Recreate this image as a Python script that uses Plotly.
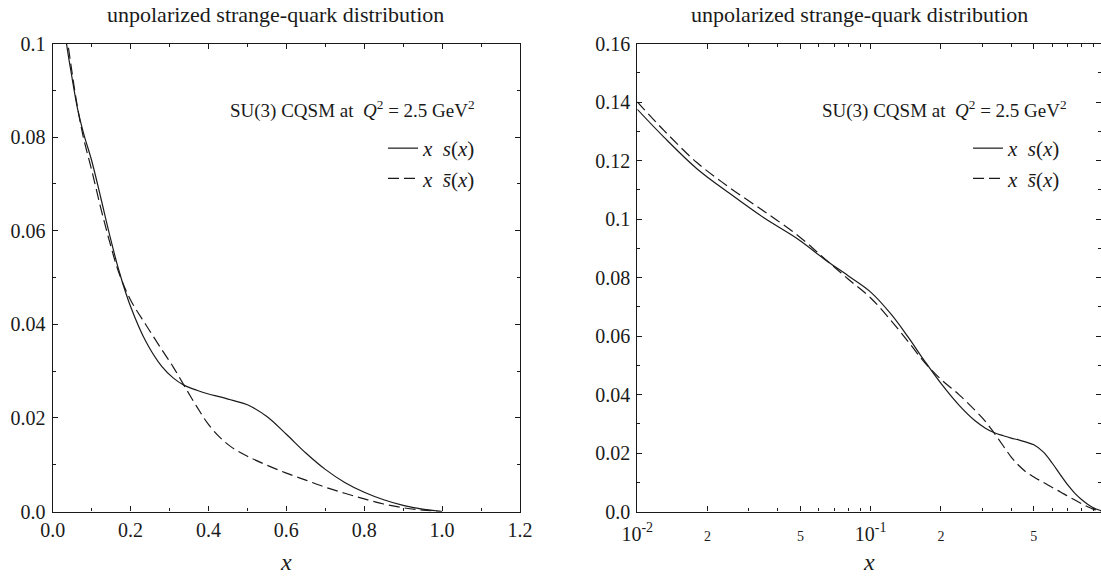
import plotly.graph_objects as go

# ---- data ----
x_vals = [0.01, 0.013, 0.018, 0.025, 0.035, 0.049, 0.064, 0.08, 0.1, 0.123, 0.145,
          0.17, 0.2, 0.24, 0.28, 0.31, 0.337, 0.37, 0.4, 0.43, 0.46, 0.5, 0.55, 0.6,
          0.65, 0.7, 0.75, 0.8, 0.85, 0.9, 0.95, 1.0]
xs_vals = [0.1375, 0.1280, 0.1172, 0.1086, 0.1003, 0.0930, 0.0860, 0.0806, 0.0750,
           0.0672, 0.0595, 0.0515, 0.0438, 0.0362, 0.0310, 0.0285, 0.0270, 0.0259,
           0.0251, 0.0245, 0.0238, 0.0228, 0.0203, 0.0165, 0.0125, 0.0090, 0.0062,
           0.0041, 0.0025, 0.0013, 0.0005, 0.0]
xsbar_vals = [0.1400, 0.1303, 0.1193, 0.1106, 0.1026, 0.0942, 0.0862, 0.0795, 0.0730,
              0.0650, 0.0580, 0.0510, 0.0452, 0.0398, 0.0346, 0.0308, 0.0270, 0.0224,
              0.0186, 0.0158, 0.0137, 0.0118, 0.0099, 0.0082, 0.0067, 0.0052, 0.0039,
              0.0027, 0.0016, 0.0008, 0.0003, 0.0]

left_xticks = [0.0, 0.2, 0.4, 0.6, 0.8, 1.0, 1.2]
left_xlabels = ["0.0", "0.2", "0.4", "0.6", "0.8", "1.0", "1.2"]
left_yticks = [0.0, 0.02, 0.04, 0.06, 0.08, 0.1]
left_ylabels = ["0.0", "0.02", "0.04", "0.06", "0.08", "0.1"]
right_yticks = [0.0, 0.02, 0.04, 0.06, 0.08, 0.1, 0.12, 0.14, 0.16]
right_ylabels = ["0.0", "0.02", "0.04", "0.06", "0.08", "0.1", "0.12", "0.14", "0.16"]
right_xticks = [0.01, 0.02, 0.05, 0.1, 0.2, 0.5]
small = "<span style='font-size:14px'>{}</span>"
right_xlabels = ["10<sup>-2</sup>", small.format("2"), small.format("5"),
                 "10<sup>-1</sup>", small.format("2"), small.format("5")]
right_xminor = [0.03, 0.04, 0.06, 0.07, 0.08, 0.09, 0.3, 0.4, 0.6, 0.7, 0.8, 0.9]

title_text = "unpolarized strange-quark distribution"
label_s = "<i>x</i>&nbsp;&nbsp;<i>s</i>(<i>x</i>)"
label_sbar = "<i>x</i>&nbsp;&nbsp;<i>s\u0304</i>(<i>x</i>)"
model_text = "SU(3) CQSM at  <i>Q</i><sup>2</sup> = 2.5 GeV<sup>2</sup>"

W, H = 1101, 577
SERIF = "Liberation Serif"
INK = "#1a1a1a"

fig = go.Figure()

for xa, ya, leg in [("x", "y", "legend"), ("x2", "y2", "legend2")]:
    fig.add_trace(go.Scatter(x=x_vals, y=xs_vals, mode="lines", name=label_s,
                             xaxis=xa, yaxis=ya, legend=leg,
                             line=dict(color=INK, width=1.2, shape="spline", smoothing=1.0)))
    fig.add_trace(go.Scatter(x=x_vals, y=xsbar_vals, mode="lines", name=label_sbar,
                             xaxis=xa, yaxis=ya, legend=leg,
                             line=dict(color=INK, width=1.2, dash="11px,5px",
                                       shape="spline", smoothing=1.0)))


def px_x(p):
    return p / W


def px_y(p):
    return 1 - p / H


axis_common = dict(showline=True, linecolor=INK, linewidth=1.2, mirror="ticks",
                   ticks="inside", ticklen=5, tickwidth=1, tickcolor=INK,
                   showgrid=False, zeroline=False, automargin=False,
                   tickfont=dict(family=SERIF, size=20, color=INK))

y_bottom, y_top = px_y(511.5), px_y(43.5)

legend_common = dict(xanchor="left", yanchor="top", bgcolor="rgba(0,0,0,0)",
                     font=dict(family=SERIF, size=21, color=INK),
                     tracegroupgap=0, itemwidth=30)

fig.update_layout(
    width=W, height=H,
    margin=dict(l=0, r=0, t=0, b=0),
    paper_bgcolor="white", plot_bgcolor="white",
    font=dict(family=SERIF, color=INK),
    xaxis=dict(domain=[px_x(52.7), px_x(520)], range=[0, 1.2], tickmode="array",
               tickvals=left_xticks, ticktext=left_xlabels, anchor="y",
               minor=dict(ticks="inside", ticklen=3, dtick=0.1, tick0=0, tickcolor=INK),
               ticklabelstandoff=0, **axis_common),
    yaxis=dict(domain=[y_bottom, y_top], range=[0, 0.1], tickmode="array",
               tickvals=left_yticks, ticktext=left_ylabels, anchor="x",
               minor=dict(ticks="inside", ticklen=3, dtick=0.01, tick0=0, tickcolor=INK),
               ticklabelstandoff=2, **axis_common),
    xaxis2=dict(domain=[px_x(637.3), 1.0], type="log", range=[-2, -0.0133],
                tickmode="array", tickvals=right_xticks, ticktext=right_xlabels,
                anchor="y2",
                minor=dict(ticks="inside", ticklen=3, tickvals=right_xminor, tickcolor=INK),
                ticklabelstandoff=4, **axis_common),
    yaxis2=dict(domain=[y_bottom, y_top], range=[0, 0.16], tickmode="array",
                tickvals=right_yticks, ticktext=right_ylabels, anchor="x2",
                minor=dict(ticks="inside", ticklen=3, dtick=0.01, tick0=0, tickcolor=INK),
                ticklabelstandoff=2, **axis_common),
    legend=dict(x=px_x(383), y=px_y(128), **legend_common),
    legend2=dict(x=px_x(968), y=px_y(128), **legend_common),
    showlegend=True,
)

annotations = [
    dict(text=title_text, x=px_x(275), y=px_y(14)),
    dict(text=title_text, x=px_x(859), y=px_y(14)),
]
for a in annotations:
    a.update(xref="paper", yref="paper", showarrow=False, xanchor="center",
             yanchor="middle", font=dict(family=SERIF, size=22, color=INK))

for xr in [477, 1069]:
    annotations.append(dict(text=model_text, x=px_x(xr), y=px_y(110), xref="paper",
                            yref="paper", showarrow=False, xanchor="right",
                            yanchor="middle", font=dict(family=SERIF, size=19, color=INK)))

for xc in [286, 869]:
    annotations.append(dict(text="<i>x</i>", x=px_x(xc), y=px_y(562), xref="paper",
                            yref="paper", showarrow=False, xanchor="center",
                            yanchor="middle", font=dict(family=SERIF, size=24, color=INK)))

fig.update_layout(annotations=annotations)

fig.write_html("out.html")
